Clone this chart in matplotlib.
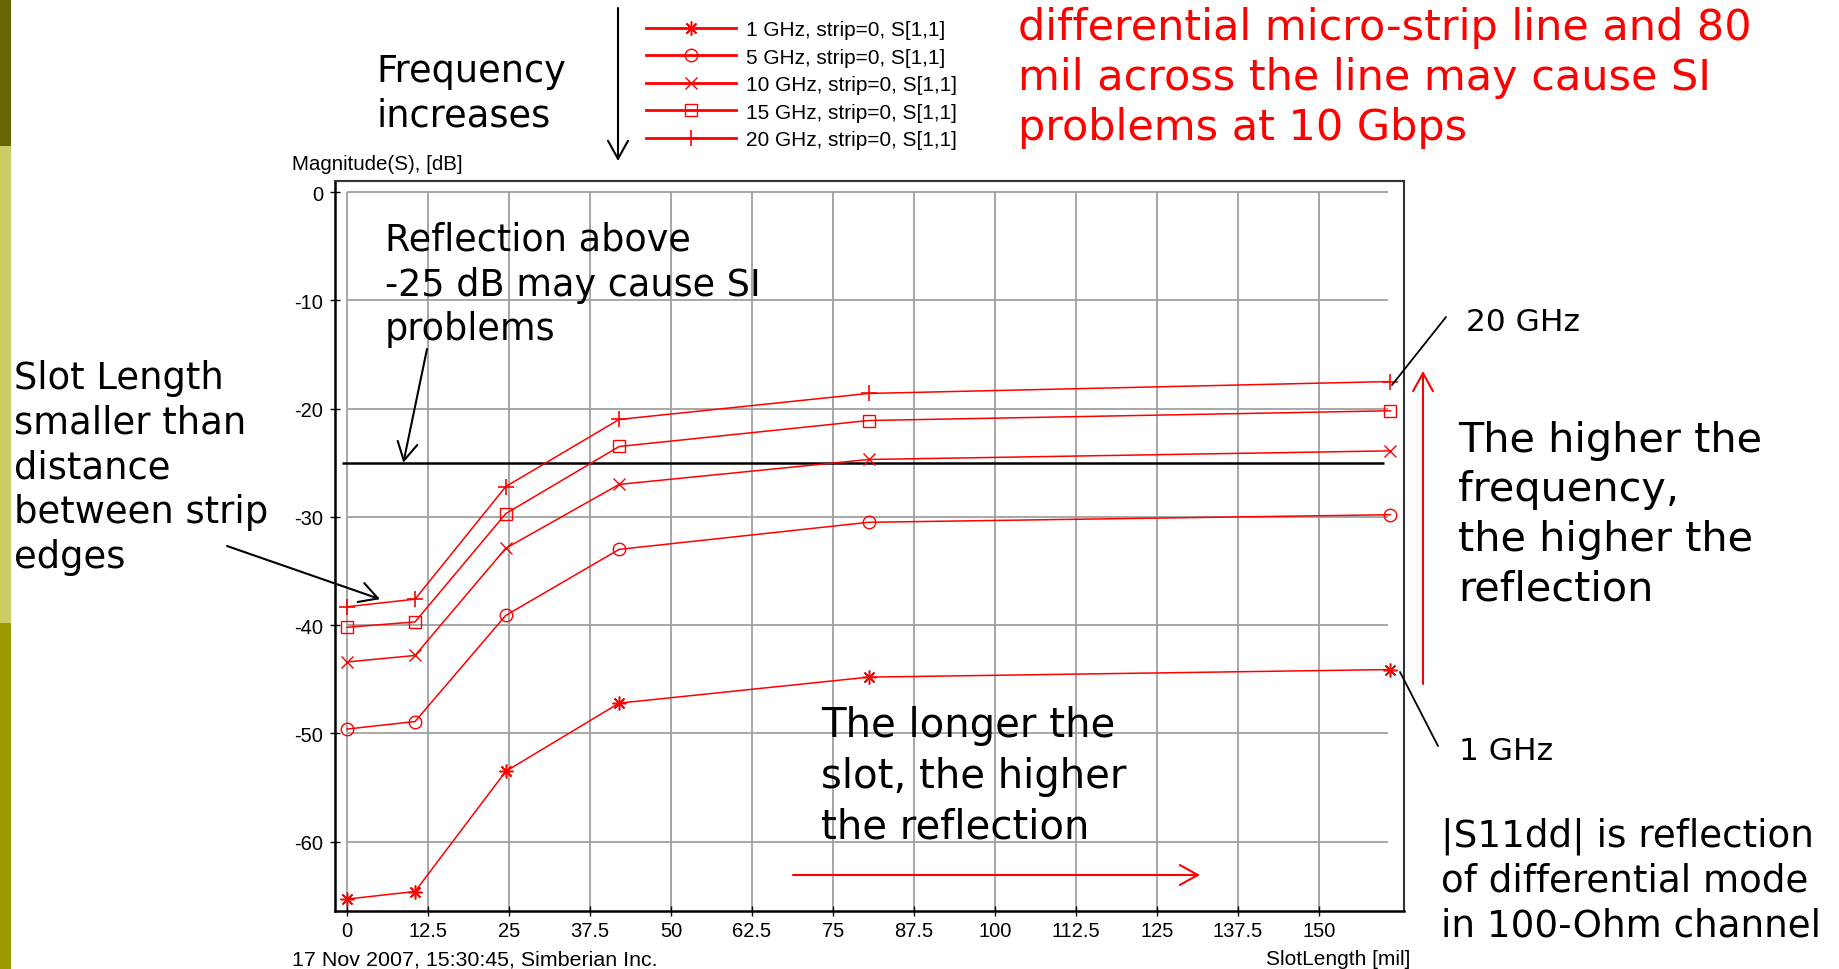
"""Slot length vs differential reflection |S11dd| - slide recreation."""

import matplotlib.pyplot as plt
from matplotlib.patches import Rectangle

W, H = 1839, 970

# ---- data -----------------------------------------------------------------
slot_length = [0, 10.5, 24.5, 42, 80.5, 161]          # mil
s11_1ghz = [-65.3, -64.6, -53.5, -47.2, -44.8, -44.1]
s11_5ghz = [-49.6, -48.9, -39.1, -33.0, -30.5, -29.8]
s11_10ghz = [-43.4, -42.8, -32.9, -27.0, -24.7, -23.9]
s11_15ghz = [-40.2, -39.7, -29.7, -23.5, -21.1, -20.2]
s11_20ghz = [-38.3, -37.6, -27.2, -21.0, -18.6, -17.5]
series_labels = [
    "1 GHz, strip=0, S[1,1]",
    "5 GHz, strip=0, S[1,1]",
    "10 GHz, strip=0, S[1,1]",
    "15 GHz, strip=0, S[1,1]",
    "20 GHz, strip=0, S[1,1]",
]
threshold_db = -25

x_ticks = [0, 12.5, 25, 37.5, 50, 62.5, 75, 87.5, 100, 112.5, 125, 137.5, 150]
x_tick_labels = ["0", "12.5", "25", "37.5", "50", "62.5", "75", "87.5",
                 "100", "112.5", "125", "137.5", "150"]
y_ticks = [0, -10, -20, -30, -40, -50, -60]
y_tick_labels = ["0", "-10", "-20", "-30", "-40", "-50", "-60"]

RED = "#ff0000"
GRID = "#a0a0a0"
CHART_FONT = ["Liberation Sans", "DejaVu Sans"]
SLIDE_FONT = ["DejaVu Sans"]


def fx(px):
    return px / W


def fy(py):
    return 1 - py / H


def P(px, py):
    # figure pixels, measured from the top-left corner of the slide
    return (px, H - py)


fig = plt.figure(figsize=(W / 100, H / 100), dpi=100)
fig.patch.set_facecolor("white")

# olive side bar of the slide template
for top, bottom, color in [(0, 147, "#666600"), (147, 624, "#cccc66"),
                           (624, H, "#999900")]:
    fig.add_artist(Rectangle((0, fy(bottom)), fx(11), (bottom - top) / H,
                             transform=fig.transFigure, color=color, lw=0))

ax = fig.add_axes([fx(335), fy(912), (1404 - 335) / W, (912 - 182) / H])
ax.set_xlim(-1.85, 163.1)
ax.set_ylim(-66.4, 1.02)

# plot-area grid (starts at x=0 / y=0, not at the frame)
ax.vlines(x_ticks, -66.4, 0, color=GRID, lw=1.3, zorder=1)
ax.hlines(y_ticks, 0, 160.7, color=GRID, lw=1.3, zorder=1)

ax.hlines(threshold_db, -0.7, 160, color="black", lw=1.8, zorder=2)

marker_specs = [
    dict(marker=(8, 2, 0), ms=10, mew=1.1),
    dict(marker="o", ms=9, mfc="none", mew=1.0),
    dict(marker="x", ms=9, mew=1.0),
    dict(marker="s", ms=9, mfc="none", mew=1.0),
    dict(marker="+", ms=11, mew=1.2),
]
all_series = [s11_1ghz, s11_5ghz, s11_10ghz, s11_15ghz, s11_20ghz]
for values, label, spec in zip(all_series, series_labels, marker_specs):
    ax.plot(slot_length, values, color=RED, lw=1.1, label=label,
            zorder=3, **spec)

for side in ("left", "bottom"):
    ax.spines[side].set_color("black")
    ax.spines[side].set_linewidth(1.8)
for side in ("top", "right"):
    ax.spines[side].set_color("#333333")
    ax.spines[side].set_linewidth(1.5)

ax.set_xticks(x_ticks)
ax.set_xticklabels(x_tick_labels, family=CHART_FONT, fontsize=14.5)
ax.set_yticks(y_ticks)
ax.set_yticklabels(y_tick_labels, family=CHART_FONT, fontsize=14.5)
ax.tick_params(direction="inout", length=7, width=1.0, color="black")
ax.tick_params(axis="x", pad=4)
ax.tick_params(axis="y", pad=5)

leg = ax.legend(loc="upper left", bbox_to_anchor=(fx(646), fy(21)),
                bbox_transform=fig.transFigure, frameon=False, borderpad=0,
                borderaxespad=0, handlelength=4.3, handletextpad=0.5,
                labelspacing=0.41, numpoints=1,
                prop=dict(family=CHART_FONT, size=15))
for line in leg.get_lines():
    line.set_linewidth(2.0)

# chart captions
fig.text(fx(292), fy(164), "Magnitude(S), [dB]", family=CHART_FONT,
         fontsize=14.8, va="center")
fig.text(fx(292), fy(960), "17 Nov 2007, 15:30:45, Simberian Inc.",
         family=CHART_FONT, fontsize=15.4, va="center")
fig.text(fx(1410), fy(960), "SlotLength [mil]", family=CHART_FONT,
         fontsize=15, va="center", ha="right")

# slide annotations
fig.text(fx(376), fy(94), "Frequency\nincreases", family=SLIDE_FONT,
         fontsize=26.5, linespacing=1.27, va="center")
fig.text(fx(385), fy(285), "Reflection above\n-25 dB may cause SI\nproblems",
         family=SLIDE_FONT, fontsize=26.3, linespacing=1.26, va="center")
fig.text(fx(14), fy(468),
         "Slot Length\nsmaller than\ndistance\nbetween strip\nedges",
         family=SLIDE_FONT, fontsize=26.6, linespacing=1.26, va="center")
fig.text(fx(1018), fy(78),
         "differential micro-strip line and 80\n"
         "mil across the line may cause SI\nproblems at 10 Gbps",
         family=SLIDE_FONT, fontsize=31, linespacing=1.24, va="center",
         color=RED)
fig.text(fx(821), fy(777), "The longer the\nslot, the higher\nthe reflection",
         family=SLIDE_FONT, fontsize=29, linespacing=1.35, va="center")
fig.text(fx(1458), fy(515),
         "The higher the\nfrequency,\nthe higher the\nreflection",
         family=SLIDE_FONT, fontsize=29.8, linespacing=1.31, va="center")
fig.text(fx(1441), fy(881),
         "|S11dd| is reflection\nof differential mode\nin 100-Ohm channel",
         family=SLIDE_FONT, fontsize=26.8, linespacing=1.28, va="center")
fig.text(fx(1466), fy(323), "20 GHz", family=SLIDE_FONT, fontsize=22.5,
         va="center")
fig.text(fx(1459), fy(751), "1 GHz", family=SLIDE_FONT, fontsize=22.5,
         va="center")

arrow_black = dict(arrowstyle="->,head_length=0.65,head_width=0.36",
                   lw=1.5, color="black", mutation_scale=20,
                   shrinkA=0, shrinkB=0)
arrow_red = dict(arrow_black, color=RED)
plain_black = dict(arrowstyle="-", lw=1.3, color="black",
                   shrinkA=0, shrinkB=0)

ax.annotate("", xy=P(618, 162), xytext=P(618, 9), xycoords="figure pixels",
            textcoords="figure pixels", arrowprops=arrow_black,
            annotation_clip=False)
ax.annotate("", xy=(8.7, threshold_db), xytext=P(427, 350),
            textcoords="figure pixels", arrowprops=arrow_black,
            annotation_clip=False)
ax.annotate("", xy=(5.1, -37.6), xytext=P(227, 547),
            textcoords="figure pixels", arrowprops=arrow_black,
            annotation_clip=False)
ax.annotate("", xy=P(1423, 372), xytext=P(1423, 685),
            xycoords="figure pixels", textcoords="figure pixels",
            arrowprops=arrow_red, annotation_clip=False)
ax.annotate("", xy=P(1200, 876), xytext=P(793, 876),
            xycoords="figure pixels", textcoords="figure pixels",
            arrowprops=arrow_red, annotation_clip=False)
ax.annotate("", xy=P(1392, 386), xytext=P(1446, 318),
            xycoords="figure pixels", textcoords="figure pixels",
            arrowprops=plain_black, annotation_clip=False)
ax.annotate("", xy=P(1438, 747), xytext=P(1400, 673),
            xycoords="figure pixels", textcoords="figure pixels",
            arrowprops=plain_black, annotation_clip=False)

fig.savefig("out.png", dpi=100)
